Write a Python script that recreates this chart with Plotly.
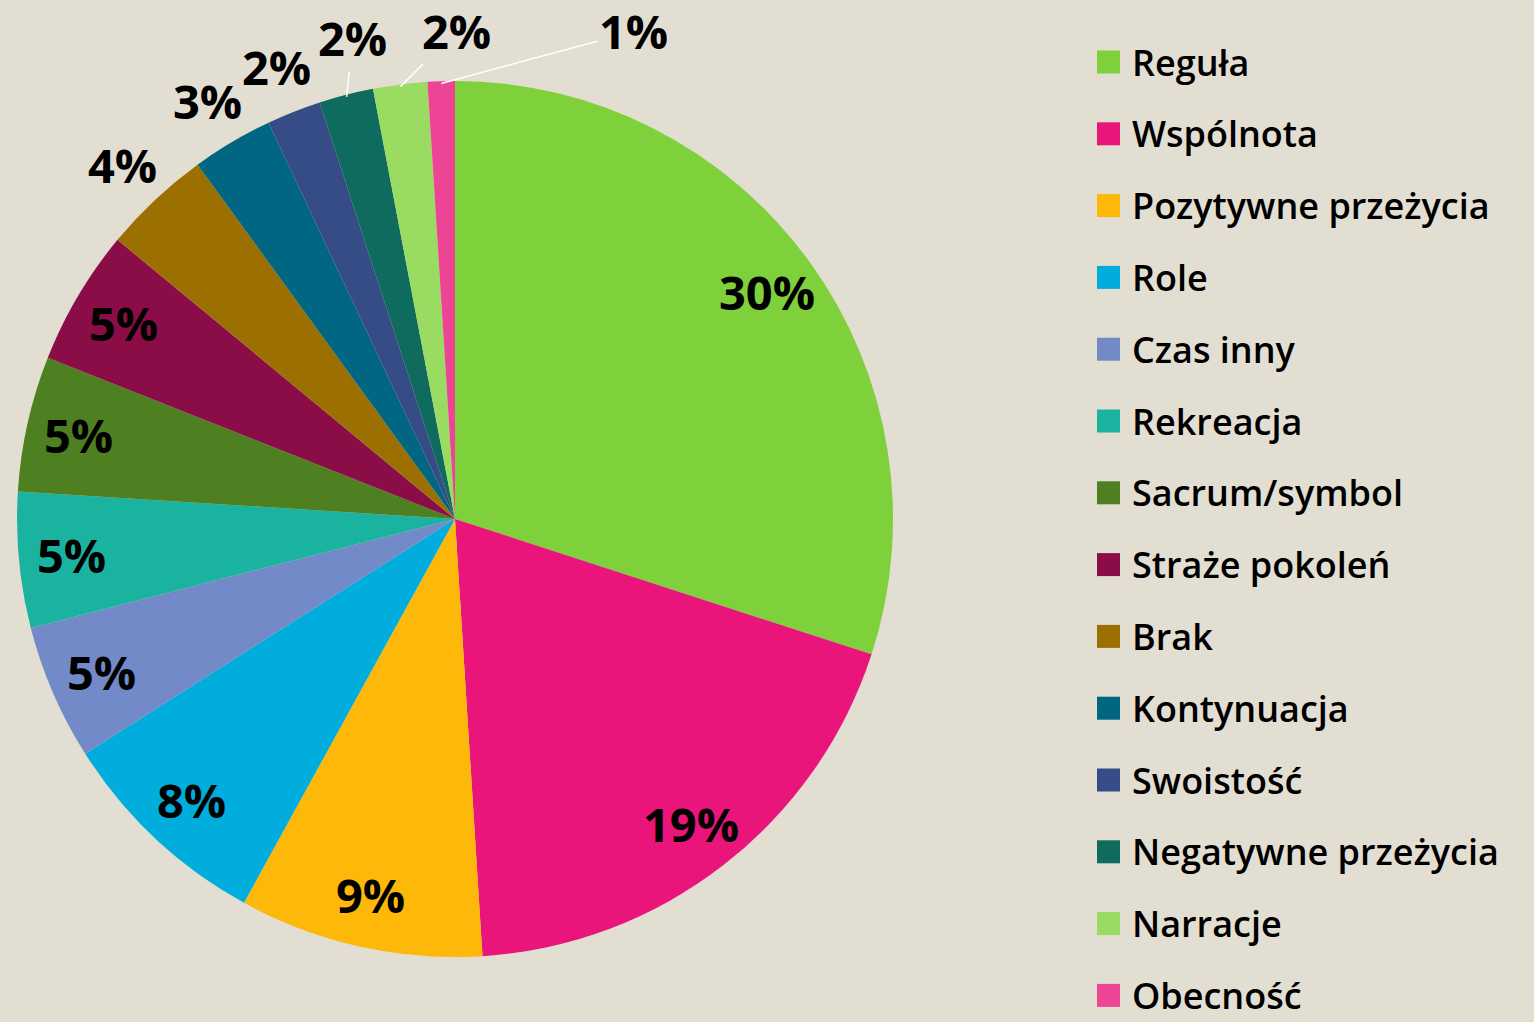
import numpy as np
import plotly.graph_objects as go

categories = ["Reguła", "Wspólnota", "Pozytywne przeżycia", "Role", "Czas inny",
              "Rekreacja", "Sacrum/symbol", "Straże pokoleń", "Brak", "Kontynuacja",
              "Swoistość", "Negatywne przeżycia", "Narracje", "Obecność"]
values = [30, 19, 9, 8, 5, 5, 5, 5, 4, 3, 2, 2, 2, 1]
colors = ["#7FD13B", "#EA157A", "#FEB80A", "#00ADDC", "#738AC8",
          "#1AB39F", "#4E7F21", "#8B0D48", "#9C7000", "#006681",
          "#354C86", "#0F6B5E", "#9ADB62", "#EE4496"]

BG = "#E3DED2"
W, H = 1534, 1022
cx, cy, R = 455, 519, 438
FONT = "Open Sans"

fig = go.Figure()
fig.add_trace(go.Pie(
    labels=categories, values=values, sort=False, direction="clockwise", rotation=0,
    marker=dict(colors=colors, line=dict(width=0)),
    textinfo="none", automargin=False,
    showlegend=False, hoverinfo="label+percent",
    domain=dict(x=[(cx - R) / W, (cx + R) / W], y=[(H - cy - R) / H, (H - cy + R) / H]),
))

# percentage labels placed along each slice's mid-angle (derived from values)
vals = np.array(values, dtype=float)
share = vals / vals.sum()
mid = (np.cumsum(share) - share / 2) * 2 * np.pi
annotations, shapes = [], []
n_inside = 8
LBL = dict(family=FONT, size=47, color="black", weight="bold")
# pixel offsets of leader-line labels (text relative to slice edge)
leader = {11: (6, -59), 12: (56, -56), 13: (192, -52)}
for i, (p, a) in enumerate(zip(share, mid)):
    txt = f"{round(p * 100):.0f}%"
    if i in leader:
        px, py = cx + R * 0.995 * np.sin(a), cy - R * 0.995 * np.cos(a)
        dx, dy = leader[i]
        annotations.append(dict(x=px / W, y=1 - py / H, xref="paper", yref="paper", text=txt,
                                showarrow=True, arrowhead=0, arrowwidth=1.5, arrowcolor="white",
                                ax=dx, ay=dy, standoff=0, font=LBL))
        continue
    r = 0.88 * R if i < n_inside else 1.11 * R
    px, py = cx + r * np.sin(a), cy - r * np.cos(a)
    annotations.append(dict(x=px / W, y=1 - py / H, xref="paper", yref="paper", text=txt,
                            showarrow=False, xanchor="center", yanchor="middle", font=LBL))

# legend drawn as squares + text
y0, step = 62, 71.8
for i, (name, col) in enumerate(zip(categories, colors)):
    yc = y0 + i * step
    shapes.append(dict(type="rect", xref="paper", yref="paper",
                       x0=1097 / W, x1=1120 / W, y0=1 - (yc + 11.5) / H, y1=1 - (yc - 11.5) / H,
                       fillcolor=col, line=dict(width=0)))
    annotations.append(dict(x=1130 / W, y=1 - yc / H, xref="paper", yref="paper",
                            text=name, showarrow=False, xanchor="left", yanchor="middle",
                            font=dict(family=FONT, size=36, color="black", weight=600)))

fig.update_layout(width=W, height=H, paper_bgcolor=BG, plot_bgcolor=BG,
                  margin=dict(l=0, r=0, t=0, b=0, autoexpand=False),
                  shapes=shapes, annotations=annotations)
fig.write_html("out.html", config={"displayModeBar": False},
               post_script="document.body.style.margin='0';document.body.style.background='" + BG + "';")
